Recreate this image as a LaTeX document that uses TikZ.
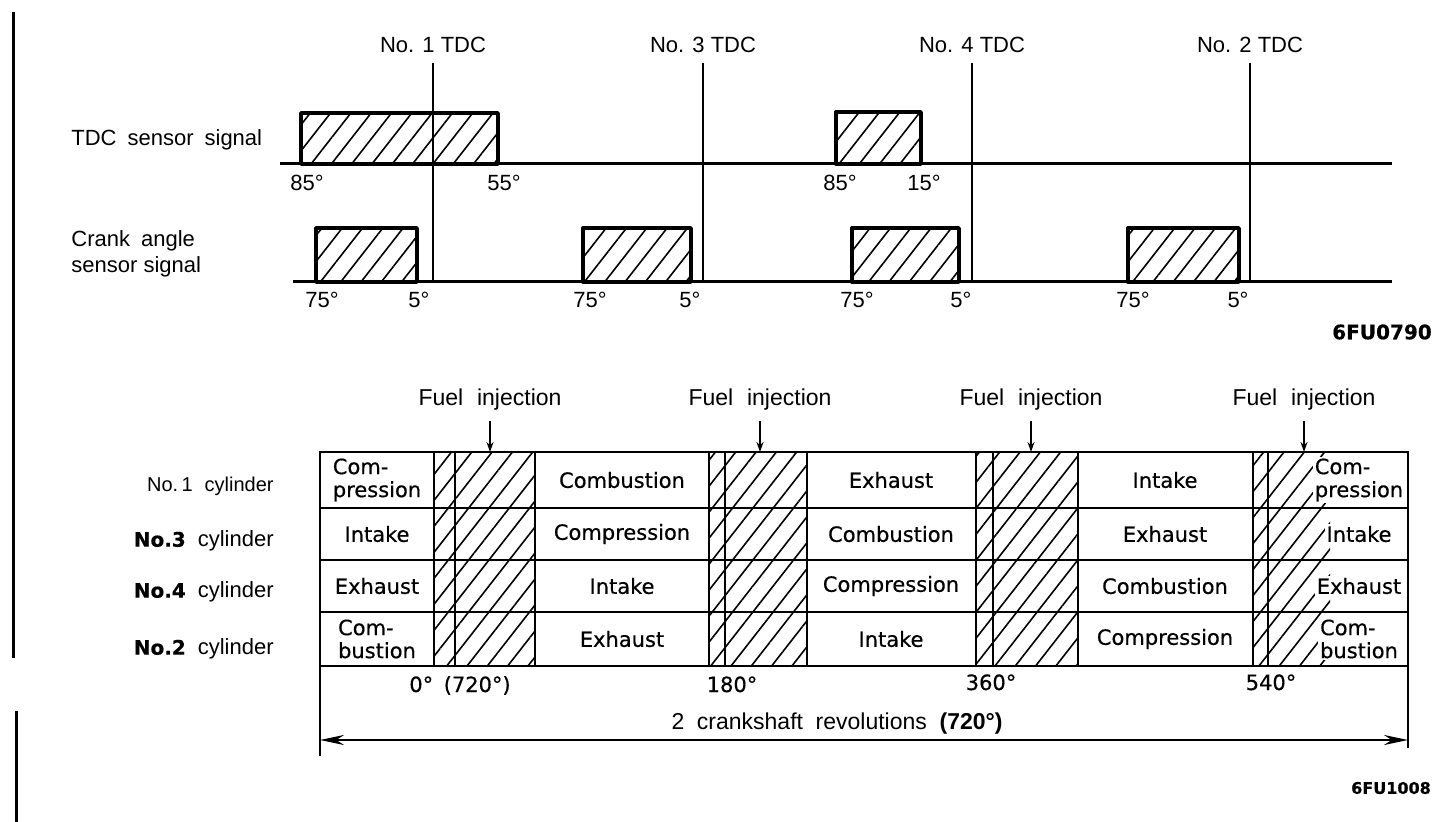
\documentclass[tikz,border=0pt]{standalone}
\usepackage{fontspec}
\setmainfont{Liberation Sans}
\newfontfamily\cellfont{DejaVu Sans}[FakeBold=0.5]
\usetikzlibrary{arrows.meta,patterns.meta}
\newcommand{\wsp}{\hspace{0.5em}}

\begin{document}
\begin{tikzpicture}[
  x=0.5pt, y=-0.5pt,
  lbl/.style={font=\fontsize{11}{13}\selectfont, inner sep=1pt},
  deg/.style={font=\fontsize{11}{13}\selectfont, inner sep=0pt},
  cell/.style={font=\cellfont\fontsize{10.5}{11.5}\selectfont, align=left, inner sep=1pt},
  figno/.style={font=\cellfont\bfseries\fontsize{10}{12}\selectfont, inner sep=0pt},
  hatch/.style={pattern={Lines[angle=52,distance=8pt,line width=0.8pt]}},
  pulse/.style={hatch, draw, line width=1.7pt, line join=round},
  sigline/.style={line width=1.5pt},
  tdc/.style={line width=0.8pt, shorten <=4pt},
  rule/.style={line width=1.2pt},
  fuel/.style={-{Stealth[length=5pt,width=3.5pt]}, line width=0.9pt, shorten <=4pt},
  span/.style={{Stealth[length=12pt,width=5pt]}-{Stealth[length=12pt,width=5pt]}, line width=1.2pt}
]
\useasboundingbox (0,0) rectangle (1439,822);

% margin bars
\draw[line width=1.5pt] (13,12) -- (13,658);
\draw[line width=1.5pt] (16,711) -- (16,822);

% ---- sensor signals ----
\node[lbl, anchor=west] (tdcsig) at (69,140) {TDC\wsp sensor\wsp signal};
\node[lbl, anchor=west, align=left] (cranksig) at (69,254) {Crank\wsp angle\\sensor signal};

\draw[pulse] (301,164) rectangle (498,113);
\draw[pulse] (836,164) rectangle (921,112);
\foreach \a/\b in {316/417, 583/691, 852/959, 1128/1239}
  \draw[pulse] (\a,282) rectangle (\b,228);
\draw[sigline] (280,164) -- (1392,164);
\draw[sigline] (293,282) -- (1392,282);

% TDC marks
\foreach \x/\cyl in {433/1, 703/3, 972/4, 1250/2} {
  \node[lbl] (tdc\cyl) at (\x,45) {No. \cyl\ TDC};
  \coordinate (tdc\cyl b) at (\x,282);
  \draw[tdc] (tdc\cyl.south) -- (tdc\cyl b);
}

\foreach \x/\t in {307/85, 504/55, 840/85, 924/15}
  \node[deg] (td\x) at (\x,183) {\t°};
\foreach \x/\t in {322/75, 419/5, 590/75, 690/5, 857/75, 961/5, 1133/75, 1238/5}
  \node[deg] (cr\x) at (\x,300) {\t°};

\node[figno] (fu790) at (1382,332) {6FU0790};

% ---- stroke table ----
\foreach \a/\b in {434/535, 709/807, 976/1078, 1253/1330}
  \fill[hatch] (\a,452) rectangle (\b,666);
\draw[rule] (320,452) rectangle (1408,666);
\foreach \y in {508,560,612}
  \draw[rule] (320,\y) -- (1408,\y);
\foreach \x in {434,455,535,709,725,807,976,993,1078,1253,1268}
  \draw[rule] (\x,452) -- (\x,666);

\node[cell] (a1) at (377,480) {Com-\\pression};
\node[cell] (a2) at (377,534) {Intake};
\node[cell] (a3) at (377,586) {Exhaust};
\node[cell] (a4) at (377,639) {Com-\\bustion};
\node[cell] (b1) at (622,480) {Combustion};
\node[cell] (b2) at (622,534) {Compression};
\node[cell] (b3) at (622,586) {Intake};
\node[cell] (b4) at (622,639) {Exhaust};
\node[cell] (c1) at (891,480) {Exhaust};
\node[cell] (c2) at (891,534) {Combustion};
\node[cell] (c3) at (891,586) {Compression};
\node[cell] (c4) at (891,639) {Intake};
\node[cell] (d1) at (1165,480) {Intake};
\node[cell] (d2) at (1165,534) {Exhaust};
\node[cell] (d3) at (1165,586) {Combustion};
\node[cell] (d4) at (1165,639) {Compression};
\node[cell, fill=white] (e1) at (1359,480) {Com-\\pression};
\node[cell, fill=white] (e2) at (1359,534) {Intake};
\node[cell, fill=white] (e3) at (1359,586) {Exhaust};
\node[cell, fill=white] (e4) at (1359,639) {Com-\\bustion};

% cylinder names
\node[lbl, anchor=east] (cyl1) at (276,486) {\fontsize{10}{12}\selectfont No.\,1\hspace{6pt}cylinder};
\node[lbl, anchor=east] (cyl3) at (276,541) {{\cellfont\bfseries\fontsize{10}{12}\selectfont No.3}\hspace{6pt}cylinder};
\node[lbl, anchor=east] (cyl4) at (276,592) {{\cellfont\bfseries\fontsize{10}{12}\selectfont No.4}\hspace{6pt}cylinder};
\node[lbl, anchor=east] (cyl2) at (276,649) {{\cellfont\bfseries\fontsize{10}{12}\selectfont No.2}\hspace{6pt}cylinder};

% injection
\foreach \x/\nm in {490/f1, 760/f2, 1031/f3, 1304/f4} {
  \node[lbl, font=\fontsize{11.5}{13}\selectfont] (\nm) at (\x,400) {Fuel\hspace{0.6em}injection};
  \coordinate (\nm a) at (\x,452);
  \draw[fuel] (\nm.south) -- (\nm a);
}

\node[cell, anchor=base] (deg0) at (460,692) {0°\wsp(720°)};
\node[cell, anchor=base] (deg180) at (732,692) {180°};
\node[cell, anchor=base] (deg360) at (991,690) {360°};
\node[cell, anchor=base] (deg540) at (1271,690) {540°};

% two revolutions
\coordinate (revl) at (320,740);
\coordinate (revr) at (1408,740);
\draw[rule] (320,666) -- (320,756);
\draw[rule] (1408,666) -- (1408,748);
\draw[span] (revl) -- (revr);
\node[lbl, font=\fontsize{11.5}{13}\selectfont] (rev) at (837,724) {2\hspace{0.55em}crankshaft\hspace{0.55em}revolutions\hspace{0.55em}\textbf{(720°)}};

\node[figno, font=\cellfont\bfseries\fontsize{8}{10}\selectfont] (fu1008) at (1391,788) {6FU1008};
\end{tikzpicture}
\end{document}
